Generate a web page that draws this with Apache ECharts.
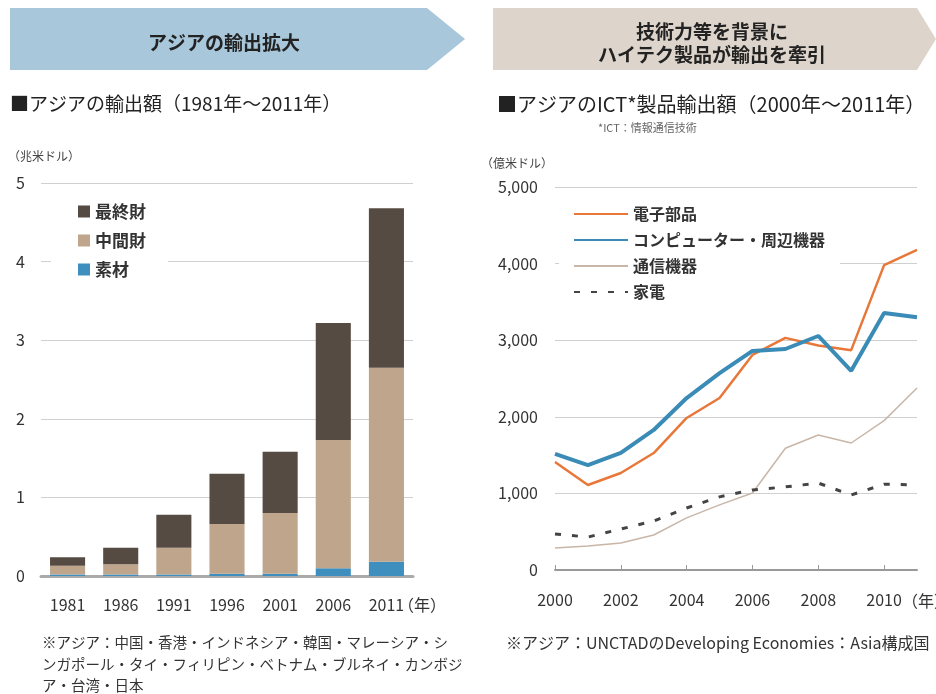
<!DOCTYPE html>
<html>
<head>
<meta charset="utf-8">
<script src="https://cdn.jsdelivr.net/npm/echarts@6/dist/echarts.min.js"></script>
<style>
  html, body { margin: 0; padding: 0; background: #fff; }
  #chart { width: 936px; height: 694px; }
</style>
</head>
<body>
<div id="chart"></div>
<script>
// 左: アジアの輸出額 (兆米ドル)
var years = ["1981", "1986", "1991", "1996", "2001", "2006", "2011"];
var sozai = [0.02, 0.02, 0.02, 0.03, 0.03, 0.10, 0.18];
var chukanzai = [0.11, 0.13, 0.34, 0.63, 0.77, 1.63, 2.47];
var saishuzai = [0.11, 0.21, 0.42, 0.64, 0.78, 1.49, 2.03];

// 右: アジアのICT製品輸出額 (億米ドル)
var ictYears = ["2000", "2001", "2002", "2003", "2004", "2005", "2006", "2007", "2008", "2009", "2010", "2011"];
var denshi = [1410, 1110, 1266, 1527, 1985, 2245, 2807, 3030, 2930, 2870, 3980, 4180];
var computer = [1515, 1370, 1530, 1828, 2245, 2570, 2860, 2885, 3055, 2600, 3355, 3300];
var tsushin = [287, 313, 352, 457, 680, 850, 1005, 1590, 1762, 1658, 1950, 2375];
var kaden = [470, 430, 535, 640, 810, 955, 1045, 1085, 1135, 980, 1120, 1110];

var FONT = '"Noto Sans CJK JP", "Noto Sans", sans-serif';
var TXT = '#333';

var chart = echarts.init(document.getElementById('chart'));

chart.setOption({
  animation: false,
  textStyle: { fontFamily: FONT },
  grid: [
    { left: 41, right: 523, top: 183, bottom: 118 },
    { left: 555, right: 19, top: 187, bottom: 124 }
  ],
  legend: [
    {
      data: ['最終財', '中間財', '素材'],
      orient: 'vertical',
      left: 51,
      top: 195,
      icon: 'rect',
      itemWidth: 12,
      itemHeight: 12,
      itemGap: 12,
      padding: [8, 22, 8, 27],
      backgroundColor: '#fff',
      textStyle: { fontFamily: FONT, fontSize: 17, color: TXT, fontWeight: 'bold' }
    },
    {
      data: ['電子部品', 'コンピューター・周辺機器', '通信機器', '家電'],
      orient: 'vertical',
      left: 559,
      top: 198,
      itemWidth: 54,
      itemHeight: 14,
      itemGap: 10,
      padding: [8, 15, 8, 14],
      backgroundColor: '#fff',
      itemStyle: { opacity: 0 },
      textStyle: { fontFamily: FONT, fontSize: 16, color: TXT, fontWeight: 'bold' }
    }
  ],
  xAxis: [
    {
      type: 'category',
      gridIndex: 0,
      data: years,
      axisLine: { lineStyle: { color: '#aaa', width: 3 } },
      axisTick: { show: false },
      axisLabel: { color: TXT, fontSize: 16, margin: 21, fontFamily: FONT }
    },
    {
      type: 'category',
      gridIndex: 1,
      data: ictYears,
      boundaryGap: false,
      axisLine: { lineStyle: { color: '#999', width: 2 } },
      axisTick: { inside: true, length: 5, lineStyle: { color: '#999' } },
      axisLabel: { color: TXT, fontSize: 16, margin: 22, interval: 1, fontFamily: FONT }
    }
  ],
  yAxis: [
    {
      type: 'value',
      gridIndex: 0,
      min: 0,
      max: 5,
      interval: 1,
      axisLine: { show: false },
      axisTick: { show: false },
      splitLine: { lineStyle: { color: '#d0d0d0' } },
      axisLabel: { color: TXT, fontSize: 16, margin: 16, fontFamily: FONT }
    },
    {
      type: 'value',
      gridIndex: 1,
      min: 0,
      max: 5000,
      interval: 1000,
      axisLine: { show: false },
      axisTick: { show: false },
      splitLine: { lineStyle: { color: '#d0d0d0' } },
      axisLabel: {
        color: TXT, fontSize: 16, margin: 17, fontFamily: FONT,
        formatter: function (v) { return v.toLocaleString('en-US'); }
      }
    }
  ],
  series: [
    {
      name: '素材', type: 'bar', stack: 'a', xAxisIndex: 0, yAxisIndex: 0,
      barCategoryGap: '34%', itemStyle: { color: '#3f8fbe' }, data: sozai
    },
    {
      name: '中間財', type: 'bar', stack: 'a', xAxisIndex: 0, yAxisIndex: 0,
      itemStyle: { color: '#bea58b' }, data: chukanzai
    },
    {
      name: '最終財', type: 'bar', stack: 'a', xAxisIndex: 0, yAxisIndex: 0,
      itemStyle: { color: '#564b42' }, data: saishuzai
    },
    {
      name: '通信機器', type: 'line', xAxisIndex: 1, yAxisIndex: 1, symbol: 'none',
      lineStyle: { color: '#c8b6a8', width: 1.5 }, itemStyle: { color: '#c8b6a8' }, data: tsushin
    },
    {
      name: '家電', type: 'line', xAxisIndex: 1, yAxisIndex: 1, symbol: 'none',
      lineStyle: { color: '#444', width: 3, type: [6, 11] }, itemStyle: { color: '#444' }, data: kaden
    },
    {
      name: '電子部品', type: 'line', xAxisIndex: 1, yAxisIndex: 1, symbol: 'none',
      lineStyle: { color: '#e8773a', width: 2.5 }, itemStyle: { color: '#e8773a' }, data: denshi
    },
    {
      name: 'コンピューター・周辺機器', type: 'line', xAxisIndex: 1, yAxisIndex: 1, symbol: 'none',
      lineStyle: { color: '#3a8cb7', width: 4 }, itemStyle: { color: '#3a8cb7' }, data: computer
    }
  ],
  graphic: [
    // バナー
    {
      type: 'polygon', z: -1,
      shape: { points: [[10, 8], [427, 8], [465, 39], [427, 70], [10, 70]] },
      style: { fill: '#a8c7da' }
    },
    {
      type: 'text', x: 224, y: 43,
      style: { text: 'アジアの輸出拡大', font: 'bold 19px ' + FONT, fill: '#222', align: 'center', verticalAlign: 'middle' }
    },
    {
      type: 'polygon', z: -1,
      shape: { points: [[493, 8], [917, 8], [936, 39], [917, 70], [493, 70]] },
      style: { fill: '#ddd4cb' }
    },
    {
      type: 'text', x: 712, y: 43,
      style: { text: '技術力等を背景に\nハイテク製品が輸出を牽引', font: 'bold 19px ' + FONT, lineHeight: 23, fill: '#222', align: 'center', verticalAlign: 'middle' }
    },
    // タイトル
    {
      type: 'text', x: 10, y: 104,
      style: { text: '■アジアの輸出額（1981年～2011年）', font: '19px ' + FONT, fill: '#222', verticalAlign: 'middle' }
    },
    {
      type: 'text', x: 497, y: 104,
      style: { text: '■アジアのICT*製品輸出額（2000年～2011年）', font: '20px ' + FONT, fill: '#222', verticalAlign: 'middle' }
    },
    {
      type: 'text', x: 598, y: 128,
      style: { text: '*ICT：情報通信技術', font: '11px ' + FONT, fill: '#666', verticalAlign: 'middle' }
    },
    // 単位
    {
      type: 'text', x: 8, y: 156,
      style: { text: '（兆米ドル）', font: '12px ' + FONT, fill: '#444', verticalAlign: 'middle' }
    },
    {
      type: 'text', x: 481, y: 163,
      style: { text: '（億米ドル）', font: '12px ' + FONT, fill: '#444', verticalAlign: 'middle' }
    },
    {
      type: 'text', x: 398, y: 605,
      style: { text: '（年）', font: '16px ' + FONT, fill: TXT, verticalAlign: 'middle' }
    },
    {
      type: 'text', x: 902, y: 601,
      style: { text: '（年）', font: '16px ' + FONT, fill: TXT, verticalAlign: 'middle' }
    },
    // 注記
    {
      type: 'text', x: 42, y: 632,
      style: {
        text: '※アジア：中国・香港・インドネシア・韓国・マレーシア・シ\nンガポール・タイ・フィリピン・ベトナム・ブルネイ・カンボジ\nア・台湾・日本',
        font: '14.5px ' + FONT, lineHeight: 21.5, fill: '#333'
      }
    },
    {
      type: 'text', x: 506, y: 643,
      style: { text: '※アジア：UNCTADのDeveloping Economies：Asia構成国', font: '16px ' + FONT, fill: '#333', verticalAlign: 'middle' }
    }
  ]
});
</script>
</body>
</html>
